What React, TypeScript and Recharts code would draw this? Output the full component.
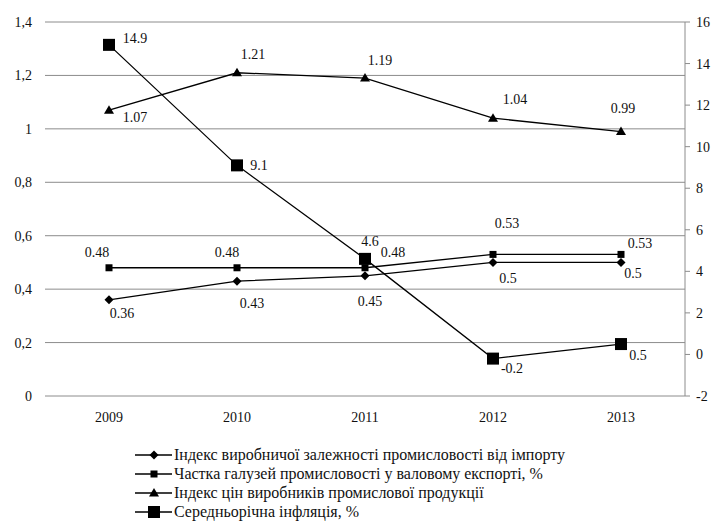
import React from "react";
import { LineChart, Line, XAxis, YAxis, CartesianGrid, LabelList } from "recharts";

const years = ["2009", "2010", "2011", "2012", "2013"];
const importDependence = [0.36, 0.43, 0.45, 0.5, 0.5];
const exportShare = [0.48, 0.48, 0.48, 0.53, 0.53];
const priceIndex = [1.07, 1.21, 1.19, 1.04, 0.99];
const inflation = [14.9, 9.1, 4.6, -0.2, 0.5];

const leftTicks = [0, 0.2, 0.4, 0.6, 0.8, 1, 1.2, 1.4];
const rightTicks = [-2, 0, 2, 4, 6, 8, 10, 12, 14, 16];

const seriesNames = [
  "Індекс виробничої залежності промисловості від імпорту",
  "Частка галузей промисловості у валовому експорті, %",
  "Індекс цін виробників промислової продукції",
  "Середньорічна інфляція, %",
];

const data = years.map((year, i) => ({
  year,
  importDependence: importDependence[i],
  exportShare: exportShare[i],
  priceIndex: priceIndex[i],
  inflation: inflation[i],
}));

const FONT = "Liberation Serif, Tinos, DejaVu Serif, serif";
const GRID = "#8c8c8c";

// label offsets [dx, dy] from each point
const importOffsets = [[13, 14], [15, 22], [5, 26], [15, 16], [12, 11]];
const exportOffsets = [[-12, -15], [-10, -15], [28, -15], [14, -31], [19, -11]];
const priceOffsets = [[26, 7], [16, -18], [15, -18], [22, -19], [2, -23]];
const inflationOffsets = [[26, -6], [22, 0], [5, -17], [19, 10], [17, 11]];

const makeLabel = (offsets: number[][]) => (props: any) => {
  const { x, y, value, index } = props;
  const [dx, dy] = offsets[index] || [0, -12];
  return (
    <text x={x + dx} y={y + dy} textAnchor="middle" dominantBaseline="central"
      fontSize={14} style={{ fontFamily: FONT }} fill="#111">
      {String(value)}
    </text>
  );
};

const Marker = ({ shape, cx, cy }: { shape: string; cx: number; cy: number }) => {
  if (shape === "diamond")
    return <polygon points={`${cx},${cy - 4.5} ${cx + 4.5},${cy} ${cx},${cy + 4.5} ${cx - 4.5},${cy}`} fill="#000" />;
  if (shape === "square")
    return <rect x={cx - 3.5} y={cy - 3.5} width={7} height={7} fill="#000" />;
  if (shape === "triangle")
    return <polygon points={`${cx},${cy - 5} ${cx + 5},${cy + 3.5} ${cx - 5},${cy + 3.5}`} fill="#000" />;
  return <rect x={cx - 6} y={cy - 6} width={12} height={12} fill="#000" />;
};

const makeDot = (shape: string) => (props: any) => (
  <Marker key={`${shape}-${props.index}`} shape={shape} cx={props.cx} cy={props.cy} />
);

const shapes = ["diamond", "square", "triangle", "big"];

function LegendBox() {
  return (
    <div style={{ position: "absolute", left: 135, top: 445, fontFamily: FONT, fontSize: 16, color: "#111" }}>
      {seriesNames.map((name, i) => (
        <div key={name} style={{ display: "flex", alignItems: "center", height: 19 }}>
          <svg width={39} height={14}>
            <line x1={0} y1={7} x2={37} y2={7} stroke="#000" strokeWidth={1.3} />
            <Marker shape={shapes[i]} cx={19} cy={7} />
          </svg>
          <span style={{ lineHeight: "19px" }}>{name}</span>
        </div>
      ))}
    </div>
  );
}

const tickStyle = { fontSize: 14, fontFamily: FONT, fill: "#111" };

export default function App() {
  return (
    <div style={{ position: "absolute", left: 0, top: 0, width: 717, height: 522, background: "#fff", fontFamily: FONT }}>
      <LineChart width={717} height={522} data={data} margin={{ top: 22, right: 0, left: 0, bottom: 96 }}
        style={{ fontFamily: FONT }}>
        <CartesianGrid yAxisId="left" vertical={false} stroke={GRID} strokeWidth={1} />
        <XAxis dataKey="year" padding={{ left: 64, right: 64 }} axisLine={false} tickLine={false}
          height={30} tickMargin={10} tick={tickStyle} />
        <YAxis yAxisId="left" domain={[0, 1.4]} ticks={leftTicks} width={45} axisLine={false} tickLine={false}
          tickFormatter={(v) => String(v).replace(".", ",")}
          tick={{ ...tickStyle, dx: -5 }} />
        <YAxis yAxisId="right" orientation="right" domain={[-2, 16]} ticks={rightTicks} width={32}
          axisLine={{ stroke: GRID }} tickLine={{ stroke: GRID }} tickSize={5} tickMargin={6}
          tick={tickStyle} />
        <Line yAxisId="left" dataKey="importDependence" stroke="#000" strokeWidth={1.3}
          dot={makeDot("diamond")} isAnimationActive={false}>
          <LabelList dataKey="importDependence" content={makeLabel(importOffsets)} />
        </Line>
        <Line yAxisId="left" dataKey="exportShare" stroke="#000" strokeWidth={1.3}
          dot={makeDot("square")} isAnimationActive={false}>
          <LabelList dataKey="exportShare" content={makeLabel(exportOffsets)} />
        </Line>
        <Line yAxisId="left" dataKey="priceIndex" stroke="#000" strokeWidth={1.3}
          dot={makeDot("triangle")} isAnimationActive={false}>
          <LabelList dataKey="priceIndex" content={makeLabel(priceOffsets)} />
        </Line>
        <Line yAxisId="right" dataKey="inflation" stroke="#000" strokeWidth={1.3}
          dot={makeDot("big")} isAnimationActive={false}>
          <LabelList dataKey="inflation" content={makeLabel(inflationOffsets)} />
        </Line>
      </LineChart>
      <LegendBox />
    </div>
  );
}
